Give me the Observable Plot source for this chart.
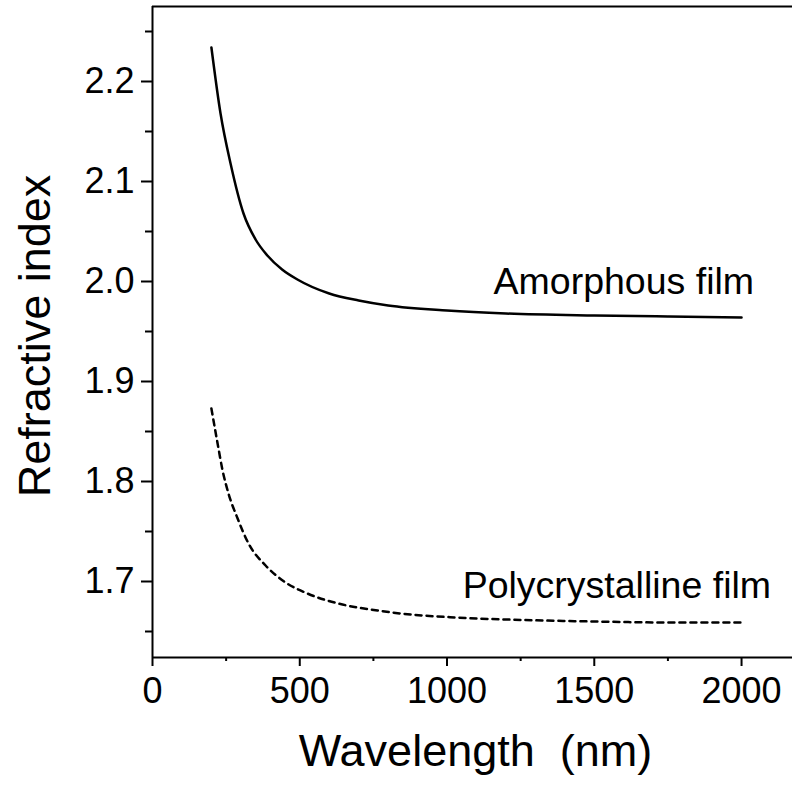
<!DOCTYPE html>
<html>
<head>
<meta charset="utf-8">
<script src="https://cdn.jsdelivr.net/npm/d3@7"></script>
<script src="https://cdn.jsdelivr.net/npm/@observablehq/plot@0.6"></script>
<style>
  html, body { margin: 0; padding: 0; background: #fff; }
</style>
</head>
<body>
<div id="chart"></div>
<script>
// Amorphous film (solid)
const lambdaA = [200, 231, 265, 309, 350, 390, 440, 492, 600, 700, 800, 1000, 1200, 1500, 1750, 2000];
const nA      = [2.234, 2.168, 2.118, 2.068, 2.042, 2.026, 2.012, 2.002, 1.988, 1.981, 1.976, 1.971, 1.968, 1.966, 1.965, 1.964];

// Polycrystalline film (dotted)
const lambdaP = [200, 221, 238, 258, 289, 326, 384, 452, 526, 645, 764, 842, 1029, 1200, 1500, 1750, 2000];
const nP      = [1.873, 1.838, 1.811, 1.788, 1.763, 1.738, 1.716, 1.699, 1.688, 1.677, 1.671, 1.668, 1.664, 1.662, 1.660, 1.659, 1.659];

// Axis ticks
const xMajor = [0, 500, 1000, 1500, 2000];
const xMinor = [250, 750, 1250, 1750];
const yMajor = [1.7, 1.8, 1.9, 2.0, 2.1, 2.2];
const yMinor = [1.65, 1.75, 1.85, 1.95, 2.05, 2.15, 2.25];

// Curve annotations
const labelText = ["Amorphous film", "Polycrystalline film"];
const labelX = [1158, 1053];
const labelY = [1.988, 1.684];

const xTitle = "Wavelength  (nm)";
const yTitle = "Refractive index";

const xDomain = [0, 2173];
const yDomain = [1.624, 2.275];

const amorphous = lambdaA.map((l, i) => ({l, n: nA[i]}));
const poly = lambdaP.map((l, i) => ({l, n: nP[i]}));
const labels = labelText.map((t, i) => ({t, x: labelX[i], y: labelY[i]}));

const font = "'Liberation Sans', Arial, sans-serif";

const chart = Plot.plot({
  width: 792,
  height: 787,
  marginLeft: 152,
  marginRight: 0,
  marginTop: 6,
  marginBottom: 130,
  style: {fontFamily: font, background: "#fff", color: "#000"},
  x: {domain: xDomain},
  y: {domain: yDomain},
  marks: [
    Plot.axisX({ticks: xMajor, tickSize: 9, tickPadding: 11, fontSize: 36, tickFormat: d => String(d), label: null, strokeWidth: 2}),
    Plot.axisX({ticks: xMinor, tickSize: 4, text: null, label: null, strokeWidth: 2}),
    Plot.axisY({ticks: yMajor, tickSize: 11, tickPadding: 7, fontSize: 36, tickFormat: d3.format(".1f"), label: null, strokeWidth: 2}),
    Plot.axisY({ticks: yMinor, tickSize: 7, text: null, label: null, strokeWidth: 2}),
    Plot.ruleX([xDomain[0]], {strokeWidth: 2}),
    Plot.ruleY([yDomain[0]], {strokeWidth: 2}),
    Plot.ruleY([yDomain[1]], {strokeWidth: 2}),
    Plot.line(amorphous, {x: "l", y: "n", stroke: "#000", strokeWidth: 2.5, curve: "monotone-x"}),
    Plot.line(poly, {x: "l", y: "n", stroke: "#000", strokeWidth: 2.5, strokeDasharray: "6,5", curve: "monotone-x"}),
    Plot.text(labels, {x: "x", y: "y", text: "t", textAnchor: "start", lineAnchor: "bottom", fontSize: 37.5, fill: "#000"}),
    Plot.text([xTitle], {frameAnchor: "bottom", dy: 108, dx: 3, textAnchor: "middle", lineAnchor: "bottom", fontSize: 45, fill: "#000"}),
    Plot.text([yTitle], {frameAnchor: "left", dx: -103, dy: 4, textAnchor: "middle", rotate: -90, lineAnchor: "bottom", fontSize: 45, fill: "#000"})
  ]
});

document.getElementById("chart").appendChild(chart);
</script>
</body>
</html>
